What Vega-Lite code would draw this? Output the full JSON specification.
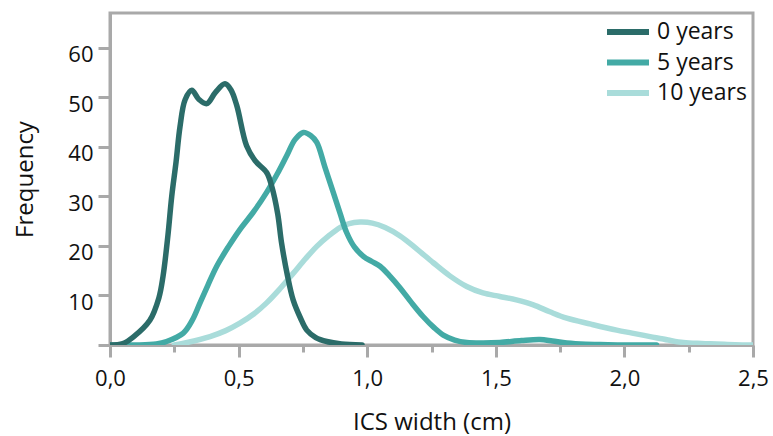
{
  "$schema": "https://vega.github.io/schema/vega-lite/v6.json",
  "width": 643,
  "height": 332,
  "autosize": "none",
  "padding": {"left": 110, "top": 13, "right": 20, "bottom": 91},
  "background": "white",
  "config": {
    "font": "Open Sans",
    "view": {"stroke": "#a9a9a9", "strokeWidth": 3},
    "axis": {"grid": false, "domainColor": "#a9a9a9", "domainWidth": 3, "tickColor": "#a9a9a9", "tickWidth": 3, "labelFont": "Open Sans", "titleFont": "Open Sans", "labelFontSize": 22, "titleFontSize": 24, "titleFontWeight": "normal", "labelColor": "#111", "titleColor": "#111"}
  },
  "data": {"values": [
    {"g":"10 years","x":0.25,"y":0},{"g":"10 years","x":0.3,"y":0.5},{"g":"10 years","x":0.389,"y":1.7},{"g":"10 years","x":0.45,"y":2.9},{"g":"10 years","x":0.505,"y":4.4},{"g":"10 years","x":0.56,"y":6.3},{"g":"10 years","x":0.609,"y":8.5},{"g":"10 years","x":0.66,"y":11.3},{"g":"10 years","x":0.713,"y":14.5},{"g":"10 years","x":0.76,"y":17.4},{"g":"10 years","x":0.804,"y":19.9},{"g":"10 years","x":0.85,"y":22},{"g":"10 years","x":0.894,"y":23.7},{"g":"10 years","x":0.93,"y":24.5},{"g":"10 years","x":0.972,"y":24.8},{"g":"10 years","x":1.02,"y":24.6},{"g":"10 years","x":1.07,"y":23.7},{"g":"10 years","x":1.128,"y":22},{"g":"10 years","x":1.19,"y":19.5},{"g":"10 years","x":1.257,"y":16.6},{"g":"10 years","x":1.32,"y":14},{"g":"10 years","x":1.387,"y":11.8},{"g":"10 years","x":1.45,"y":10.5},{"g":"10 years","x":1.516,"y":9.8},{"g":"10 years","x":1.58,"y":9.1},{"g":"10 years","x":1.646,"y":8.1},{"g":"10 years","x":1.71,"y":6.7},{"g":"10 years","x":1.776,"y":5.4},{"g":"10 years","x":1.87,"y":4.2},{"g":"10 years","x":1.97,"y":3},{"g":"10 years","x":2.03,"y":2.4},{"g":"10 years","x":2.1,"y":1.7},{"g":"10 years","x":2.17,"y":1.0},{"g":"10 years","x":2.229,"y":0.5},{"g":"10 years","x":2.3,"y":0.3},{"g":"10 years","x":2.359,"y":0.2},{"g":"10 years","x":2.43,"y":0.05},{"g":"10 years","x":2.5,"y":0},
    {"g":"5 years","x":0,"y":0},{"g":"5 years","x":0.1,"y":0},{"g":"5 years","x":0.18,"y":0.2},{"g":"5 years","x":0.22,"y":0.7},{"g":"5 years","x":0.285,"y":2.4},{"g":"5 years","x":0.32,"y":5},{"g":"5 years","x":0.35,"y":8.5},{"g":"5 years","x":0.38,"y":12},{"g":"5 years","x":0.415,"y":15.9},{"g":"5 years","x":0.46,"y":19.8},{"g":"5 years","x":0.505,"y":23.3},{"g":"5 years","x":0.56,"y":27},{"g":"5 years","x":0.609,"y":30.8},{"g":"5 years","x":0.65,"y":34.5},{"g":"5 years","x":0.687,"y":38.2},{"g":"5 years","x":0.72,"y":41.5},{"g":"5 years","x":0.752,"y":42.9},{"g":"5 years","x":0.78,"y":42.3},{"g":"5 years","x":0.804,"y":40.9},{"g":"5 years","x":0.835,"y":36},{"g":"5 years","x":0.868,"y":30.8},{"g":"5 years","x":0.895,"y":26.5},{"g":"5 years","x":0.92,"y":22.7},{"g":"5 years","x":0.95,"y":19.8},{"g":"5 years","x":0.985,"y":17.9},{"g":"5 years","x":1.02,"y":16.8},{"g":"5 years","x":1.05,"y":15.9},{"g":"5 years","x":1.09,"y":13.8},{"g":"5 years","x":1.128,"y":11.5},{"g":"5 years","x":1.17,"y":8.7},{"g":"5 years","x":1.218,"y":5.7},{"g":"5 years","x":1.26,"y":3.5},{"g":"5 years","x":1.296,"y":2.0},{"g":"5 years","x":1.34,"y":1.0},{"g":"5 years","x":1.387,"y":0.5},{"g":"5 years","x":1.45,"y":0.4},{"g":"5 years","x":1.516,"y":0.5},{"g":"5 years","x":1.6,"y":0.9},{"g":"5 years","x":1.672,"y":1.1},{"g":"5 years","x":1.72,"y":0.8},{"g":"5 years","x":1.776,"y":0.4},{"g":"5 years","x":1.85,"y":0.15},{"g":"5 years","x":1.905,"y":0.1},{"g":"5 years","x":2.0,"y":0},{"g":"5 years","x":2.125,"y":0},
    {"g":"0 years","x":0,"y":0},{"g":"0 years","x":0.05,"y":0.3},{"g":"0 years","x":0.09,"y":1.6},{"g":"0 years","x":0.155,"y":5},{"g":"0 years","x":0.19,"y":9.5},{"g":"0 years","x":0.206,"y":13.8},{"g":"0 years","x":0.225,"y":22},{"g":"0 years","x":0.24,"y":30},{"g":"0 years","x":0.257,"y":37},{"g":"0 years","x":0.272,"y":44},{"g":"0 years","x":0.292,"y":49.5},{"g":"0 years","x":0.318,"y":51.4},{"g":"0 years","x":0.345,"y":49.6},{"g":"0 years","x":0.376,"y":48.7},{"g":"0 years","x":0.41,"y":51},{"g":"0 years","x":0.447,"y":52.7},{"g":"0 years","x":0.47,"y":51.5},{"g":"0 years","x":0.493,"y":48.3},{"g":"0 years","x":0.531,"y":40.2},{"g":"0 years","x":0.564,"y":37.2},{"g":"0 years","x":0.609,"y":34.8},{"g":"0 years","x":0.629,"y":32},{"g":"0 years","x":0.652,"y":26.5},{"g":"0 years","x":0.667,"y":20.6},{"g":"0 years","x":0.69,"y":14},{"g":"0 years","x":0.712,"y":9.1},{"g":"0 years","x":0.74,"y":5.5},{"g":"0 years","x":0.765,"y":3},{"g":"0 years","x":0.8,"y":1.5},{"g":"0 years","x":0.843,"y":0.7},{"g":"0 years","x":0.9,"y":0.2},{"g":"0 years","x":0.98,"y":0}
  ]},
  "mark": {"type": "line", "interpolate": "catmull-rom", "strokeWidth": 5.5, "strokeCap": "round", "clip": true},
  "encoding": {
    "x": {"field": "x", "type": "quantitative",
      "scale": {"domain": [0, 2.5], "nice": false, "zero": false},
      "axis": {"title": "ICS width (cm)", "values": [0,0.25,0.5,0.75,1,1.25,1.5,1.75,2,2.25,2.5],
        "labelExpr": "datum.value % 0.5 !== 0 ? '' : replace(format(datum.value, '.1f'), '.', ',')",
        "tickSize": {"condition": {"test": "datum.value % 0.5 !== 0", "value": 7}, "value": 12},
        "labelPadding": 11, "titlePadding": 21, "labelFlush": false, "labelOverlap": false}},
    "y": {"field": "y", "type": "quantitative",
      "scale": {"domain": [0, 67], "nice": false},
      "axis": {"title": "Frequency", "values": [0,10,20,30,40,50,60], "labelExpr": "datum.value === 0 ? '' : datum.label",
        "tickSize": 12, "labelPadding": 5, "labelOffset": 7, "titlePadding": 30}},
    "color": {"field": "g", "type": "nominal",
      "scale": {"domain": ["0 years", "5 years", "10 years"], "range": ["#2b6c69", "#43aaa5", "#a9dcda"]},
      "legend": {"title": null, "orient": "none", "legendX": 501, "legendY": 2, "symbolType": "M-1.5,0H1.5", "symbolSize": 784, "symbolStrokeWidth": 6, "labelFontSize": 23, "labelFont": "Open Sans", "labelColor": "#111", "rowPadding": 1.5, "labelOffset": 12}}
  }
}
